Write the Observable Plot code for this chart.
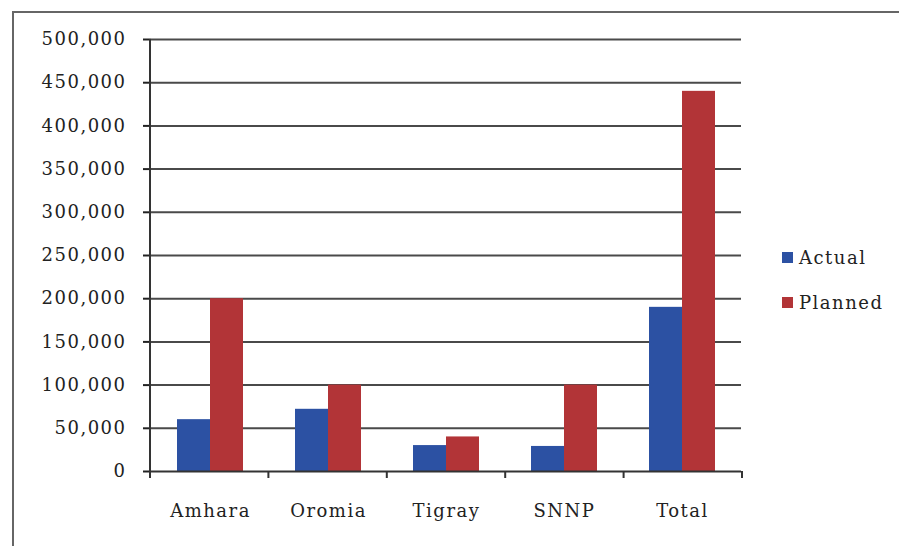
<!DOCTYPE html>
<html>
<head>
<meta charset="utf-8">
<script src="https://cdn.jsdelivr.net/npm/d3@7"></script>
<script src="https://cdn.jsdelivr.net/npm/@observablehq/plot@0.6"></script>
<style>
  html, body { margin: 0; padding: 0; background: #fff; }
  #wrap { position: relative; width: 899px; height: 546px; overflow: hidden; background: #fff; }
  #frame { position: absolute; left: 12px; top: 11px; width: 900px; height: 600px;
           border-left: 2px solid #666; border-top: 2px solid #666; box-sizing: border-box; }
  #chart { position: absolute; left: 0; top: 0; }
  #chart svg text { letter-spacing: 1.5px; }
  #legend { position: absolute; left: 782px; top: 244px; font-family: "DejaVu Serif", serif;
            font-size: 18px; color: #222; letter-spacing: 1.5px; }
  .item { display: flex; align-items: center; height: 26px; margin-bottom: 19px; }
  .sw { width: 11px; height: 11px; margin-right: 6px; }
</style>
</head>
<body>
<div id="wrap">
  <div id="frame"></div>
  <div id="chart"></div>
  <div id="legend"></div>
</div>
<script>
const categories = ["Amhara", "Oromia", "Tigray", "SNNP", "Total"];
const series = ["Actual", "Planned"];
const actual = [60000, 72000, 30000, 29000, 190000];
const planned = [200000, 100000, 40000, 100000, 440000];
const yTicks = [0, 50000, 100000, 150000, 200000, 250000, 300000, 350000, 400000, 450000, 500000];
const colors = ["#2c51a3", "#b23437"];

const data = categories.flatMap((c, i) => [
  {category: c, series: series[0], value: actual[i]},
  {category: c, series: series[1], value: planned[i]}
]);

const chart = Plot.plot({
  width: 899,
  height: 546,
  marginLeft: 150,
  marginRight: 157,
  marginTop: 39,
  marginBottom: 75,
  style: {fontFamily: "DejaVu Serif, serif", fontSize: "18px", color: "#222", background: "transparent", overflow: "visible"},
  fx: {domain: categories, padding: 0, label: null, tickSize: 0, tickPadding: 33, axis: "bottom"},
  x: {domain: series, paddingInner: 0, paddingOuter: 0.77, axis: null},
  y: {domain: [0, 500000], ticks: yTicks, tickSize: 8, tickPadding: 17, tickFormat: d3.format(","), label: null},
  color: {domain: series, range: colors},
  marks: [
    Plot.ruleY(yTicks.slice(1), {stroke: "#4a4a4a", strokeWidth: 2}),
    Plot.barY(data, {fx: "category", x: "series", y: "value", fill: "series"}),
    Plot.ruleY([0], {stroke: "#333", strokeWidth: 2})
  ]
});
document.getElementById("chart").appendChild(chart);

// axis line and category boundary ticks derived from the scales
const fxs = chart.scale("fx");
const ys = chart.scale("y");
const yLin = d3.scaleLinear(ys.domain, ys.range);
const [r0, r1] = fxs.range;
const step = (r1 - r0) / categories.length;
const bounds = d3.range(categories.length + 1).map(i => r0 + i * step);
const svg = d3.select(chart);
const g = svg.append("g").attr("stroke", "#333").attr("stroke-width", 2);
g.append("line").attr("x1", r0).attr("x2", r0).attr("y1", yLin(500000)).attr("y2", yLin(0) + 7);
bounds.slice(1).forEach(b => {
  g.append("line").attr("x1", b).attr("x2", b).attr("y1", yLin(0)).attr("y2", yLin(0) + 7);
});
svg.selectAll("g[aria-label='y-axis tick'] path, g[aria-label='y-axis'] path").attr("stroke-width", 2);

// legend
const legend = document.getElementById("legend");
series.forEach((s, i) => {
  const item = document.createElement("div");
  item.className = "item";
  const sw = document.createElement("div");
  sw.className = "sw";
  sw.style.background = colors[i];
  const t = document.createElement("span");
  t.textContent = s;
  item.appendChild(sw);
  item.appendChild(t);
  legend.appendChild(item);
});
</script>
</body>
</html>
